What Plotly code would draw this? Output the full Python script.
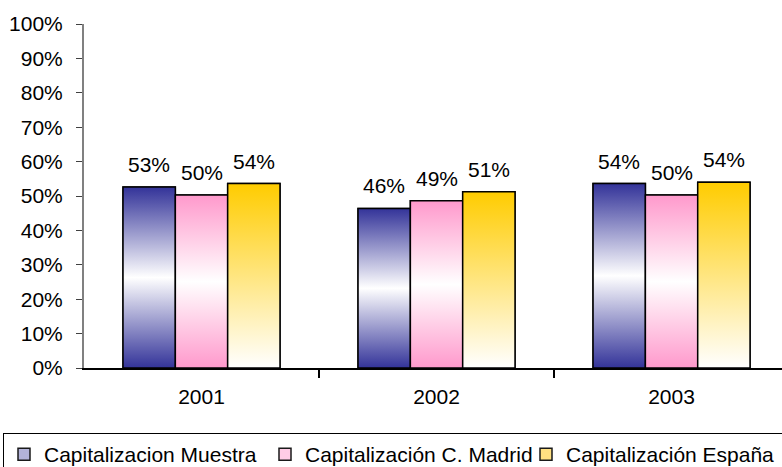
import plotly.graph_objects as go

# Categories and series values (share of capitalisation)
years = ["2001", "2002", "2003"]
series_names = ["Capitalizacion Muestra", "Capitalización C. Madrid", "Capitalización España"]
muestra = [0.526, 0.464, 0.536]
madrid = [0.503, 0.486, 0.503]
espana = [0.536, 0.512, 0.540]
y_ticks = [i / 10 for i in range(11)]

series_values = [muestra, madrid, espana]

# Vertical gradients (bottom -> top) for each series
gradients = [
    [[0, "#333399"], [0.5, "#ffffff"], [1, "#333399"]],
    [[0, "#ff99cc"], [0.5, "#ffffff"], [1, "#ff99cc"]],
    [[0, "#ffffff"], [1, "#ffcc00"]],
]
legend_fill = ["#b3b3d9", "#ffcce6", "#ffe082"]

FONT = "Liberation Sans, Arial, sans-serif"
BARGAP = 0.332
n_series = len(series_values)
bar_w = (1 - BARGAP) / n_series
xpos = list(range(len(years)))
boundaries = [p + 0.5 for p in xpos[:-1]]

fig = go.Figure()

# Plain grouped bars: provide the legend symbols and the base rectangles
for k, (name, vals) in enumerate(zip(series_names, series_values)):
    fig.add_trace(go.Bar(
        x=xpos, y=vals, name=name,
        marker=dict(color=legend_fill[k], line=dict(color="#1a1a1a", width=1.5)),
        hoverinfo="skip",
    ))

# Gradient-filled rectangles laid over each bar, plus value labels
for k, vals in enumerate(series_values):
    offset = (k - (n_series - 1) / 2) * bar_w
    for i, v in enumerate(vals):
        x0 = xpos[i] + offset - bar_w / 2
        x1 = x0 + bar_w
        fig.add_trace(go.Scatter(
            x=[x0, x0, x1, x1, x0], y=[0, v, v, 0, 0],
            mode="lines", fill="toself",
            fillgradient=dict(type="vertical", colorscale=gradients[k], start=0, stop=v),
            line=dict(color="#000000", width=1.5),
            showlegend=False, hoverinfo="skip",
        ))
        fig.add_annotation(
            x=xpos[i] + offset, y=v, text=f"{v:.0%}",
            showarrow=False, xanchor="center", yanchor="bottom", yshift=9,
            font=dict(family=FONT, size=21, color="#000000"),
        )

plot_left, plot_right, plot_top, plot_bottom = 84, 782, 24, 368
plot_w = plot_right - plot_left
plot_h = plot_bottom - plot_top

fig.update_layout(
    width=782, height=467,
    margin=dict(l=plot_left, r=782 - plot_right, t=plot_top, b=467 - plot_bottom, autoexpand=False),
    paper_bgcolor="white", plot_bgcolor="white",
    barmode="group", bargap=BARGAP, bargroupgap=0,
    font=dict(family=FONT, size=21, color="#000000"),
    showlegend=True,
    legend=dict(
        orientation="h", xref="paper", yref="paper",
        x=(3 - plot_left) / plot_w, y=(plot_bottom - 433) / plot_h,
        xanchor="left", yanchor="top",
        bordercolor="#000000", borderwidth=1, bgcolor="white",
        entrywidth=216, traceorder="normal",
        font=dict(family=FONT, size=21, color="#000000"),
    ),
    xaxis=dict(
        range=[-0.5, 2.47],
        tickmode="array", tickvals=xpos, ticktext=years,
        ticks="outside", ticklen=9, tickcolor="rgba(0,0,0,0)",
        showline=True, linecolor="#000000", linewidth=1.5,
        showgrid=False, zeroline=False,
        minor=dict(tickmode="array", tickvals=boundaries, ticks="outside",
                   ticklen=8, tickwidth=1.5, tickcolor="#000000", showgrid=False),
    ),
    yaxis=dict(
        range=[0, 1],
        tickmode="array", tickvals=y_ticks, tickformat=".0%",
        ticks="outside", ticklen=6, tickwidth=1, tickcolor="#404040",
        showline=True, linecolor="#808080", linewidth=2,
        showgrid=False, zeroline=False,
        ticklabelstandoff=9,
    ),
)

fig.write_html("out.html")
